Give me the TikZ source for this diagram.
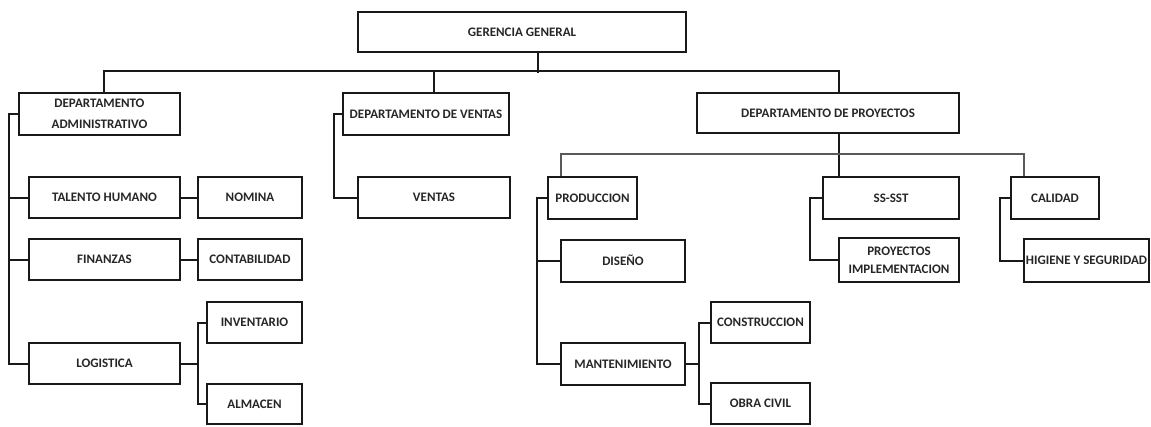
\documentclass[tikz,border=0pt]{standalone}
\usepackage{fontspec}
\setmainfont{Carlito}
\begin{document}
\begin{tikzpicture}[x=1pt,y=-1pt,
  box/.style={draw=black!90, line width=2pt, rectangle, inner sep=0pt,
    text=black!85, font=\fontsize{13}{21}\selectfont\bfseries, align=center},
  conn/.style={draw=black!90, line width=2pt},
  thinconn/.style={draw=black!65, line width=1.2pt}]
\useasboundingbox (0,0) rectangle (1151,426);

% top level
\node[box, minimum width=328, minimum height=40] (gg) at (522,32) {GERENCIA GENERAL};

% departments
\node[box, minimum width=161, minimum height=42] (adm) at (99.5,114) {DEPARTAMENTO\\ADMINISTRATIVO};
\node[box, minimum width=166, minimum height=42] (ven) at (426,114) {DEPARTAMENTO DE VENTAS};
\node[box, minimum width=262, minimum height=40] (pro) at (828,113) {DEPARTAMENTO DE PROYECTOS};

% administrative area
\node[box, minimum width=151, minimum height=41] (tal) at (104.5,197.5) {TALENTO HUMANO};
\node[box, minimum width=104, minimum height=41] (nom) at (250,197.5) {NOMINA};
\node[box, minimum width=151, minimum height=41] (fin) at (104.5,259.5) {FINANZAS};
\node[box, minimum width=104, minimum height=41] (con) at (250,259.5) {CONTABILIDAD};
\node[box, minimum width=95, minimum height=41] (inv) at (254.5,322.5) {INVENTARIO};
\node[box, minimum width=151, minimum height=41] (log) at (104.5,363.5) {LOGISTICA};
\node[box, minimum width=95, minimum height=40] (alm) at (254.5,404) {ALMACEN};

% sales area
\node[box, minimum width=152, minimum height=41] (vts) at (434,197.5) {VENTAS};

% projects area
\node[box, minimum width=89, minimum height=42] (prod) at (592.5,198) {PRODUCCION};
\node[box, minimum width=124, minimum height=42] (dis) at (623,260.5) {DISEÑO};
\node[box, minimum width=124, minimum height=42] (man) at (623,364) {MANTENIMIENTO};
\node[box, minimum width=99, minimum height=41] (cons) at (760.5,322.5) {CONSTRUCCION};
\node[box, minimum width=99, minimum height=41] (obr) at (760.5,403.5) {OBRA CIVIL};
\node[box, minimum width=136, minimum height=42] (sst) at (891,198) {SS-SST};
\node[box, minimum width=120, minimum height=44, font=\fontsize{13}{18}\selectfont\bfseries] (pimp) at (899,260) {PROYECTOS\\IMPLEMENTACION};
\node[box, minimum width=88, minimum height=42] (cal) at (1055,198) {CALIDAD};
\node[box, minimum width=125, minimum height=43] (hig) at (1086.5,260.5) {HIGIENE Y SEGURIDAD};

% general management to departments
\draw[conn] ([xshift=16]gg.south) -- ++(0,20);
\draw[conn] ([xshift=4.5]adm.north) -- ++(0,-21) -| ([xshift=11]pro.north);
\draw[conn] ([xshift=8]ven.north) -- ++(0,-21);

% administrative branches
\foreach \n in {tal,fin,log} \draw[conn] (adm.west) -- ++(-9,0) |- (\n.west);
\draw[conn] (tal.east) -- (nom.west);
\draw[conn] (fin.east) -- (con.west);
\foreach \n in {inv,alm} \draw[conn] (log.east) -- ++(17,0) |- (\n.west);

% sales branch
\draw[conn] (ven.west) -- ++(-8,0) |- (vts.west);

% projects branches
\draw[conn] ([xshift=11]pro.south) -- ([xshift=11]pro.south |- sst.north);
\draw[thinconn] ([xshift=-31.5]prod.north) -- ++(0,-22) -| ([xshift=-31]cal.north);
\foreach \n in {dis,man} \draw[conn] (prod.west) -- ++(-10,0) |- (\n.west);
\foreach \n in {cons,obr} \draw[conn] (man.east) -- ++(13,0) |- (\n.west);
\draw[conn] (sst.west) -- ++(-12,0) |- (pimp.west);
\draw[conn] (cal.west) -- ++(-10,0) |- (hig.west);
\end{tikzpicture}
\end{document}
